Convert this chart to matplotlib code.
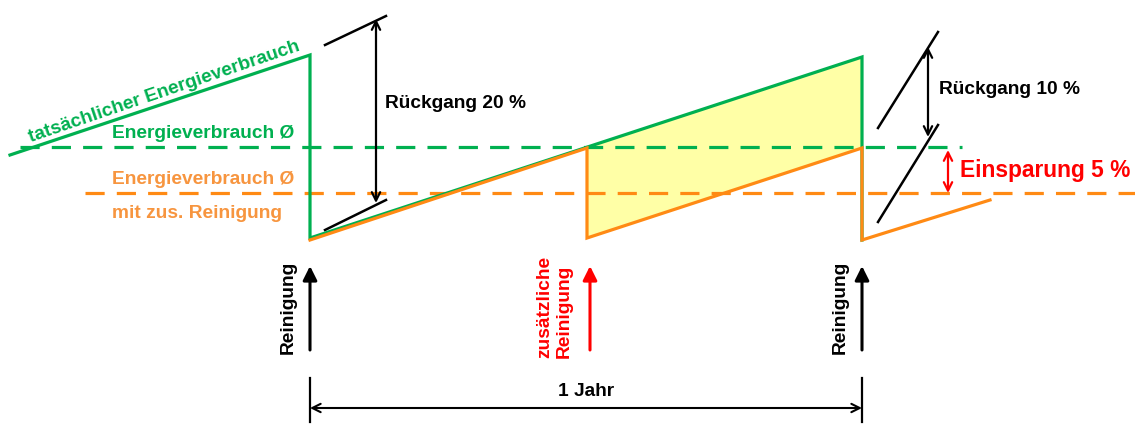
import matplotlib
matplotlib.use("Agg")
import matplotlib.pyplot as plt
from matplotlib.patches import FancyArrowPatch, Polygon

plt.rcParams['font.family'] = ['Liberation Sans', 'DejaVu Sans']

# Time axis (px-like units) and energy consumption profile (smaller y = higher consumption)
t_green = [10, 310, 310, 862, 862]
e_green = [155, 55, 238, 57, 240]
t_orange = [310, 587, 587, 862, 862, 990]
e_orange = [240, 148, 238, 148, 240, 200]
avg_green = 147
avg_orange = 193
cleaning_times = [310, 587, 862]
cleaning_labels = ["Reinigung", "zusätzliche\nReinigung", "Reinigung"]

GREEN = "#00B050"
ORANGE = "#FF8A14"
ORANGE_TXT = "#F7953F"
RED = "#FF0000"
YELLOW = "#FFFFA6"
FS = 13.8

fig = plt.figure(figsize=(11.35, 4.24), dpi=100)
ax = fig.add_axes([0, 0, 1, 1])
ax.set_xlim(0, 1135)
ax.set_ylim(424, 0)
ax.axis("off")

# savings area between the two profiles after the additional cleaning
ax.add_patch(Polygon([(t_orange[2], e_orange[2]), (t_orange[2], avg_green),
                      (t_green[3], e_green[3]), (t_orange[3], e_orange[3])], closed=True,
                     facecolor=YELLOW, edgecolor="none", zorder=1))

# averages
ax.plot([20, 962], [avg_green, avg_green], color=GREEN, lw=2.3, dashes=(6, 3.8), zorder=2)
ax.plot([85, 1135], [avg_orange, avg_orange], color=ORANGE, lw=2.3, dashes=(6, 3.8), zorder=2)

# consumption profiles
ax.plot(t_green, e_green, color=GREEN, lw=2.3, zorder=3, solid_joinstyle="miter")
ax.plot(t_orange, e_orange, color=ORANGE, lw=2.3, zorder=4, solid_joinstyle="miter")

bold = dict(fontweight="bold")
ax.text(164, 92, "tatsächlicher Energieverbrauch", color=GREEN, fontsize=FS, rotation=18.8,
        ha="center", va="center", rotation_mode="anchor", **bold)
ax.text(112, 133, "Energieverbrauch Ø", color=GREEN, fontsize=FS, ha="left", va="center", **bold)
ax.text(112, 180, "Energieverbrauch Ø", color=ORANGE_TXT, fontsize=FS, ha="left", va="center", **bold)
ax.text(112, 213, "mit zus. Reinigung", color=ORANGE_TXT, fontsize=FS, ha="left", va="center", **bold)


def darrow(p0, p1, color, lw=1.6, ms=12):
    ax.add_patch(FancyArrowPatch(p0, p1, arrowstyle="<->,head_length=0.5,head_width=0.25",
                                 color=color, lw=lw, mutation_scale=ms, shrinkA=0, shrinkB=0, zorder=5))


# decline 20 %
ax.plot([325, 386], [45, 16], color="black", lw=1.8)
ax.plot([325, 386], [230, 200], color="black", lw=1.8)
darrow((376, 19), (376, 203), "black")
ax.text(385, 103, "Rückgang 20 %", fontsize=FS, ha="left", va="center", **bold)

# decline 10 %
ax.plot([878, 938], [128, 32], color="black", lw=1.8)
ax.plot([878, 938], [222, 125], color="black", lw=1.8)
darrow((928, 47), (928, 137), "black")
ax.text(939, 90, "Rückgang 10 %", fontsize=FS, ha="left", va="center", **bold)

# savings
darrow((948, 150), (948, 193), RED)
ax.text(960, 170, "Einsparung 5 %", color=RED, fontsize=16.4, ha="left", va="center", **bold)

# cleaning markers
colors = ["black", RED, "black"]
for t, lab, c in zip(cleaning_times, cleaning_labels, colors):
    x = t + 3 if c == RED else t
    off = 17 if c == RED else 13
    ax.add_patch(FancyArrowPatch((x, 350), (x, 266), arrowstyle="-|>,head_length=0.6,head_width=0.3",
                                 color=c, lw=2.2, mutation_scale=14, shrinkA=0, shrinkB=0))
    ax.text(x - off, 307, lab, color=c, fontsize=FS, rotation=90, ha="right", va="center",
            multialignment="left", linespacing=1.25, **bold)

# one year span
for t in (cleaning_times[0], cleaning_times[2]):
    ax.plot([t, t], [378, 422], color="black", lw=1.6)
darrow((cleaning_times[0], 408), (cleaning_times[2], 408), "black", lw=1.5)
ax.text((cleaning_times[0] + cleaning_times[2]) / 2, 391, "1 Jahr", fontsize=FS,
        ha="center", va="center", **bold)

fig.savefig("out.png", dpi=100)
